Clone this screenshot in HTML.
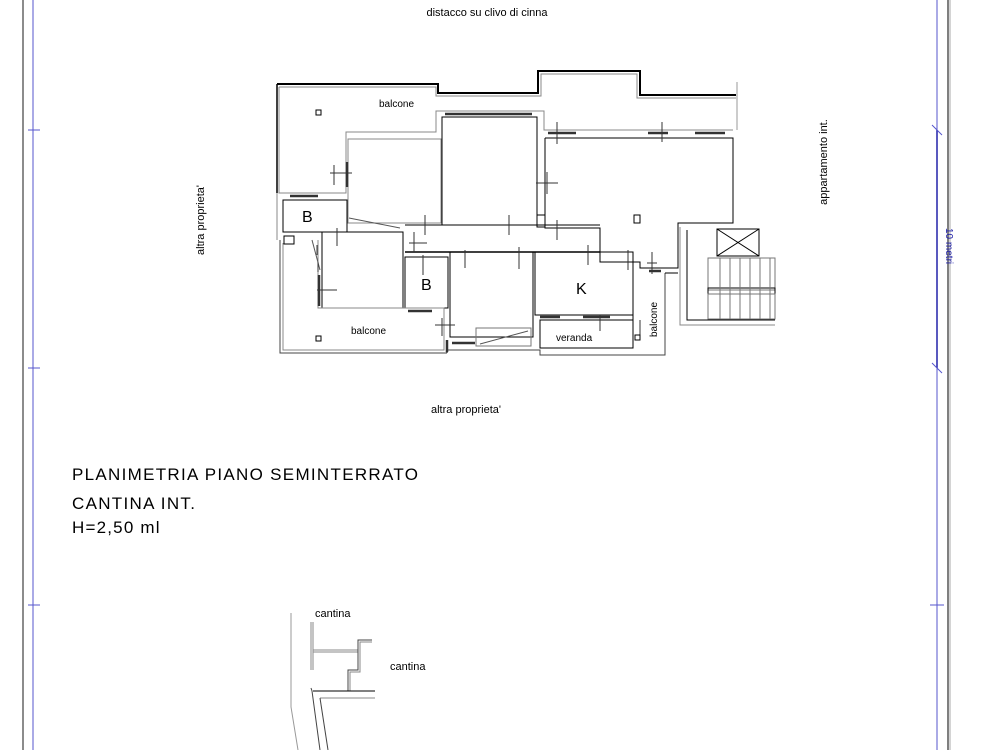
<!DOCTYPE html>
<html><head><meta charset="utf-8"><style>
body{margin:0;background:#fff;width:1000px;height:750px;overflow:hidden;font-family:"Liberation Sans",sans-serif}
svg{position:absolute;left:0;top:0}
</style></head><body>
<svg width="1000" height="750" viewBox="0 0 1000 750" font-family="Liberation Sans, sans-serif">
<!-- frame -->
<line x1="23" y1="0" x2="23" y2="750" stroke="#666" stroke-width="1.5"/>
<line x1="33" y1="0" x2="33" y2="750" stroke="#5555cc" stroke-width="1"/>
<line x1="28" y1="130" x2="40" y2="130" stroke="#5555cc"/>
<line x1="28" y1="368" x2="40" y2="368" stroke="#5555cc"/>
<line x1="28" y1="605" x2="40" y2="605" stroke="#5555cc"/>
<line x1="937" y1="0" x2="937" y2="750" stroke="#5555cc" stroke-width="1"/>
<line x1="937" y1="130" x2="937" y2="368" stroke="#2222aa" stroke-width="1.5"/>
<line x1="932" y1="125" x2="942" y2="135" stroke="#5555cc"/>
<line x1="932" y1="363" x2="942" y2="373" stroke="#5555cc"/>
<line x1="930" y1="605" x2="944" y2="605" stroke="#5555cc"/>
<line x1="948" y1="0" x2="948" y2="750" stroke="#555" stroke-width="1.5"/>
<line x1="950" y1="0" x2="950" y2="750" stroke="#aaa" stroke-width="1"/>
<text x="0" y="0" font-size="10" fill="#2222aa" transform="translate(946,228) rotate(90)">10 metri</text>

<!-- labels -->
<text x="487" y="16" font-size="11" text-anchor="middle">distacco su clivo di cinna</text>
<text x="0" y="0" font-size="11" text-anchor="middle" transform="translate(204,220) rotate(-90)">altra proprieta'</text>
<text x="0" y="0" font-size="11" text-anchor="middle" transform="translate(827,162) rotate(-90)">appartamento int.</text>
<text x="466" y="413" font-size="11" text-anchor="middle">altra proprieta'</text>
<text x="72" y="480" font-size="17" letter-spacing="1.3">PLANIMETRIA PIANO SEMINTERRATO</text>
<text x="72" y="509" font-size="17" letter-spacing="1.3">CANTINA INT.</text>
<text x="72" y="533" font-size="17" letter-spacing="1.2">H=2,50 ml</text>

<g fill="none" stroke="#000" stroke-width="1">
<!-- outer top wall -->
<polyline points="277,84 438,84 438,93 538,93 538,71 640,71 640,95 736,95" stroke-width="2"/>
<polyline points="279,87 436,87 436,96 541,96 541,74 637,74 637,98 736,98" stroke="#888"/>
<line x1="737" y1="82" x2="737" y2="130" stroke="#999"/>
<polyline points="279,87 279,193 346,193 346,132 436,132 436,111 544,111 544,130 733,130" stroke="#888"/>
<polyline points="277,84 277,193" stroke-width="1.5"/>
<polyline points="277,193 277,240" stroke="#888"/>
<!-- rooms -->
<rect x="348" y="139" width="93" height="84" stroke="#888"/>
<rect x="442" y="117" width="95" height="108"/>
<polyline points="545,138 733,138 733,223 678,223 678,268 640,268 640,262 600,262 600,228 545,228 545,138"/>
<rect x="283" y="200" width="64" height="32"/>
<rect x="322" y="232" width="81" height="76"/>
<rect x="405" y="257" width="43" height="51"/>
<rect x="450" y="252" width="83" height="85"/>
<rect x="535" y="252" width="98" height="63"/>
<rect x="540" y="320" width="93" height="28"/>
<line x1="405" y1="225" x2="600" y2="225"/>
<line x1="405" y1="252" x2="600" y2="252" stroke-width="1.5"/>
<polyline points="280,240 280,353 447,353" stroke="#444"/>
<polyline points="283,243 283,350 444,350 444,308 318,308 318,240" stroke="#888"/>
<line x1="447" y1="353" x2="447" y2="340"/>
<polyline points="447,350 540,350 540,355 665,355 665,273" stroke="#444"/>
<polyline points="633,273 633,348" />
<polyline points="665,273 678,273" />
<!-- stairs -->
<polyline points="680,227 680,325 775,325" stroke="#888"/>
<polyline points="687,230 687,320 775,320" />
<rect x="717" y="229" width="42" height="27"/>
<line x1="717" y1="229" x2="759" y2="256"/><line x1="759" y1="229" x2="717" y2="256"/>
<rect x="708" y="258" width="67" height="32" stroke="#777"/>
<rect x="708" y="288" width="67" height="6"/>
<rect x="708" y="294" width="67" height="25" stroke="#777"/>
<g stroke="#777"><line x1="720" y1="258" x2="720" y2="319"/><line x1="730" y1="258" x2="730" y2="319"/><line x1="740" y1="258" x2="740" y2="319"/><line x1="750" y1="258" x2="750" y2="319"/><line x1="760" y1="258" x2="760" y2="319"/><line x1="770" y1="258" x2="770" y2="319"/></g>
<!-- windows -->
<g stroke-width="2.5" stroke="#333">
<line x1="445" y1="114" x2="532" y2="114"/>
<line x1="548" y1="133" x2="576" y2="133"/><line x1="648" y1="133" x2="668" y2="133"/><line x1="695" y1="133" x2="725" y2="133"/>
<line x1="347" y1="162" x2="347" y2="187"/>
<line x1="290" y1="196" x2="318" y2="196"/>
<line x1="319" y1="275" x2="319" y2="306"/>
<line x1="408" y1="311" x2="432" y2="311"/>
<line x1="540" y1="317" x2="560" y2="317"/><line x1="583" y1="317" x2="610" y2="317"/>
<line x1="649" y1="271" x2="661" y2="271"/>
<line x1="447" y1="340" x2="447" y2="352"/>
<line x1="452" y1="343" x2="475" y2="343"/>
</g>
<!-- doors -->
<line x1="349" y1="218" x2="400" y2="228" stroke="#555"/>
<line x1="312" y1="240" x2="320" y2="270" stroke="#555"/>
<rect x="476" y="328" width="55" height="18" stroke="#777"/>
<line x1="480" y1="344" x2="528" y2="331" stroke="#555"/>
<rect x="537" y="215" width="8" height="12"/>
<rect x="634" y="215" width="6" height="8"/>
<!-- crosses -->
<g stroke="#333">
<path d="M557,122v22M330,173h22M334,165v20M536,183h22M547,172v22M425,215v20M509,215v20M557,220v20M409,243h18M414,232v20M423,255v20M465,250v18M519,247v22M588,245v20M317,290h20M337,228v18M628,250v20M647,263h10M652,252v22M600,315v16M435,325h20M442,318v18M640,320v15M662,122v20M318,262v10M317,245v10"/>
</g>
<rect x="316" y="110" width="5" height="5"/>
<rect x="316" y="336" width="5" height="5"/>
<rect x="635" y="335" width="5" height="5"/>
<rect x="284" y="236" width="10" height="8"/>
</g>
<g font-size="10">
<text x="379" y="107">balcone</text>
<text x="351" y="334">balcone</text>
<text x="556" y="341">veranda</text>
<text x="0" y="0" transform="translate(657,337) rotate(-90)">balcone</text>
</g>
<g font-size="16">
<text x="302" y="222">B</text>
<text x="421" y="290">B</text>
<text x="576" y="294">K</text>
</g>
<!-- cantina -->
<g fill="none" stroke="#444" stroke-width="1">
<polyline points="291,613 291,707 298,750" stroke="#999"/>
<line x1="311" y1="622" x2="311" y2="670" stroke="#888"/>
<line x1="313" y1="622" x2="313" y2="670" stroke="#888"/>
<line x1="313" y1="650" x2="358" y2="650" stroke="#888"/>
<line x1="313" y1="652" x2="358" y2="652" stroke="#888"/>
<polyline points="358,652 358,640 372,640"/>
<polyline points="360,652 360,642 372,642" stroke="#888"/>
<polyline points="358,652 358,670 348,670 348,691"/>
<polyline points="360,652 360,672 350,672 350,691" stroke="#888"/>
<line x1="313" y1="691" x2="375" y2="691" stroke="#000"/>
<line x1="320" y1="698" x2="375" y2="698" stroke="#888"/>
<polyline points="311,688 312,691 320,750"/>
<polyline points="320,698 328,750"/>
</g>
<text x="315" y="617" font-size="11">cantina</text>
<text x="390" y="670" font-size="11">cantina</text>
</svg>
</body></html>
